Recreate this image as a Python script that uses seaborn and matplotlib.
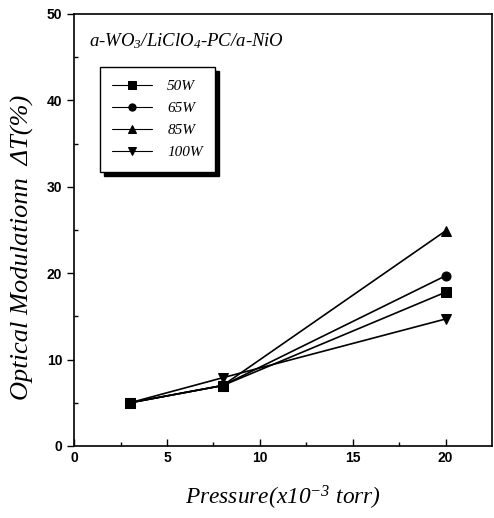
import matplotlib
matplotlib.use("Agg")
import matplotlib.pyplot as plt
import seaborn as sns
import pandas as pd

pressure = [3, 8, 20]
series_names = ["50W", "65W", "85W", "100W"]
v_50 = [5.0, 7.0, 17.8]
v_65 = [5.0, 7.0, 19.7]
v_85 = [5.0, 7.0, 24.9]
v_100 = [5.0, 7.9, 14.7]
x_ticks = [0, 5, 10, 15, 20]
y_ticks = [0, 10, 20, 30, 40, 50]

sns.set_theme(style="ticks")
plt.rcParams["mathtext.fontset"] = "custom"
plt.rcParams["mathtext.rm"] = "Liberation Serif:italic"
plt.rcParams["mathtext.it"] = "Liberation Serif:italic"
plt.rcParams["text.color"] = "black"
plt.rcParams["xtick.color"] = "black"
plt.rcParams["ytick.color"] = "black"
plt.rcParams["axes.labelcolor"] = "black"

rows = []
for name, vals in zip(series_names, [v_50, v_65, v_85, v_100]):
    for p, v in zip(pressure, vals):
        rows.append({"Pressure": p, "dT": v, "Power": name})
df = pd.DataFrame(rows)

fig = plt.figure(figsize=(4.94, 5.18), dpi=100)
ax = fig.add_axes([0.150, 0.139, 0.846, 0.834])

sns.lineplot(data=df, x="Pressure", y="dT", hue="Power", style="Power",
             hue_order=series_names, style_order=series_names,
             palette=["black"] * 4, markers={"50W": "s", "65W": "o", "85W": "^", "100W": "v"},
             dashes=False, markersize=6.5, linewidth=1.2, markeredgecolor="black",
             ax=ax, legend=True)

ax.set_xlim(0, 22.5)
ax.set_ylim(0, 50)
ax.set_xticks(x_ticks)
ax.set_yticks(y_ticks)
ax.set_xticks([2.5, 7.5, 12.5, 17.5], minor=True)
ax.set_yticks([5, 15, 25, 35, 45], minor=True)
ax.tick_params(axis="x", which="both", direction="in", length=5, width=1)
ax.tick_params(axis="x", which="minor", length=3)
ax.tick_params(axis="y", which="major", direction="out", length=5, width=1)
ax.tick_params(axis="y", which="minor", direction="in", length=3, width=1)
for lab in ax.get_xticklabels() + ax.get_yticklabels():
    lab.set_fontfamily("Liberation Sans")
    lab.set_fontweight("bold")
    lab.set_fontsize(10)
    lab.set_color("black")
for sp in ax.spines.values():
    sp.set_visible(True)
    sp.set_color("black")
    sp.set_linewidth(1.2)

ax.set_xlabel("Pressure(x10$^{-3}$ torr)", fontfamily="Liberation Serif",
              fontstyle="italic", fontsize=16.8, labelpad=14)
ax.set_ylabel("Optical Modulationn  ΔT(%)", fontfamily="Liberation Serif",
              fontstyle="italic", fontsize=19, labelpad=12)
ax.yaxis.set_label_coords(-0.097, 0.46)

ax.text(0.035, 0.925, "a-WO$_3$/LiClO$_4$-PC/a-NiO", transform=ax.transAxes,
        fontfamily="Liberation Serif", fontstyle="italic", fontsize=13.5)

leg = ax.legend(loc="upper left", bbox_to_anchor=(0.062, 0.877), frameon=True,
                shadow={"color": "black", "alpha": 1.0, "ox": 3, "oy": -3},
                fancybox=False, title=None, handlelength=2.6, markerscale=0.8,
                prop={"family": "Liberation Serif", "style": "italic", "size": 11},
                borderpad=0.8, labelspacing=0.55, borderaxespad=0, handletextpad=1.0)
leg.get_frame().set_edgecolor("black")
leg.get_frame().set_linewidth(1.0)
for h in leg.get_lines():
    h.set_linewidth(0.8)

fig.savefig("out.png", dpi=100)
